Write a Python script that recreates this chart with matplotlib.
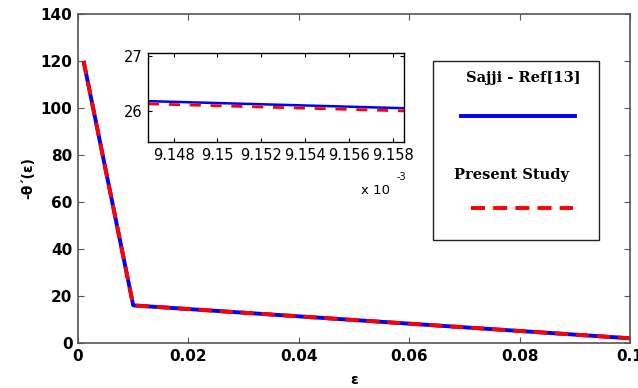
import matplotlib
matplotlib.use("Agg")
import matplotlib.pyplot as plt
from matplotlib.lines import Line2D
from matplotlib.patches import Rectangle

# Main data
eps = [0.001, 0.01, 0.1]
ref_main = [120, 16, 2]
present_main = [120, 16, 2]

# Inset data
eps_inset = [9.14683e-3, 9.15851e-3]
ref_inset = [26.18, 26.05]
present_inset = [26.13, 26.00]

xticks_main = [0, 0.02, 0.04, 0.06, 0.08, 0.1]
xticklabels_main = ["0", "0.02", "0.04", "0.06", "0.08", "0.1"]
yticks_main = [0, 20, 40, 60, 80, 100, 120, 140]
xticks_inset = [9.148e-3, 9.150e-3, 9.152e-3, 9.154e-3, 9.156e-3, 9.158e-3]
xticklabels_inset = ["9.148", "9.15", "9.152", "9.154", "9.156", "9.158"]
yticks_inset = [26, 27]

blue = "#0000ff"
red = "#ff0000"
axcol = "#555555"

fig = plt.figure(figsize=(6.38, 3.88), dpi=100)
ax = fig.add_axes([0.1223, 0.116, 0.8652, 0.848])
ax.plot(eps, ref_main, color=blue, lw=2.8, solid_capstyle="butt")
ax.plot(eps, present_main, color=red, lw=2.8, dashes=(3.4, 2.0))
ax.set_xlim(0, 0.1)
ax.set_ylim(0, 140)
ax.set_xticks(xticks_main)
ax.set_xticklabels(xticklabels_main)
ax.set_yticks(yticks_main)
ax.tick_params(direction="in", top=True, right=True, length=4, color=axcol,
               labelsize=11, pad=4)
for lab in ax.get_xticklabels() + ax.get_yticklabels():
    lab.set_fontweight("bold")
for s in ax.spines.values():
    s.set_color(axcol)
    s.set_linewidth(1.2)
ax.set_xlabel("ε", fontweight="bold", fontsize=10, labelpad=7)
ax.set_ylabel("-θ΄(ε)", fontweight="bold", fontsize=10, labelpad=4)

# Inset
ins = fig.add_axes([0.232, 0.634, 0.401, 0.229])
ins.plot(eps_inset, ref_inset, color=blue, lw=1.8)
ins.plot(eps_inset, present_inset, color=red, lw=2.0, dashes=(4, 3.5))
ins.set_xlim(eps_inset[0], eps_inset[-1])
ins.set_ylim(25.43, 27.06)
ins.set_xticks(xticks_inset)
ins.set_xticklabels(xticklabels_inset)
ins.set_yticks(yticks_inset)
ins.tick_params(direction="in", top=True, right=True, length=3, labelsize=10.5, pad=4)
for s in ins.spines.values():
    s.set_linewidth(1.0)
fig.text(361 / 638, 1 - 190 / 388, "x 10", fontsize=9.5, ha="left", va="center")
fig.text(397 / 638, 1 - 177 / 388, "-3", fontsize=7, ha="left", va="center")

# Legend box (manual, MATLAB-like layout)
rect = Rectangle((433 / 638, 1 - 240 / 388), 166 / 638, 179 / 388,
                 transform=fig.transFigure, facecolor="white", edgecolor="#222222",
                 lw=1.0, zorder=5)
fig.add_artist(rect)
fig.text(581 / 638, 1 - 78 / 388, "Sajji - Ref[13]", fontsize=10.5, fontweight="bold",
         family="DejaVu Serif", ha="right", va="center", zorder=6)
fig.add_artist(Line2D([461 / 638, 575 / 638], [1 - 116 / 388, 1 - 116 / 388],
                      transform=fig.transFigure, color=blue, lw=2.8, zorder=6))
fig.text(454 / 638, 1 - 175 / 388, "Present Study", fontsize=10.5, fontweight="bold",
         family="DejaVu Serif", ha="left", va="center", zorder=6)
fig.add_artist(Line2D([471 / 638, 573 / 638], [1 - 208 / 388, 1 - 208 / 388],
                      transform=fig.transFigure, color=red, lw=2.8, dashes=(3.6, 2.1),
                      zorder=6))

fig.savefig("out.png", dpi=100)
